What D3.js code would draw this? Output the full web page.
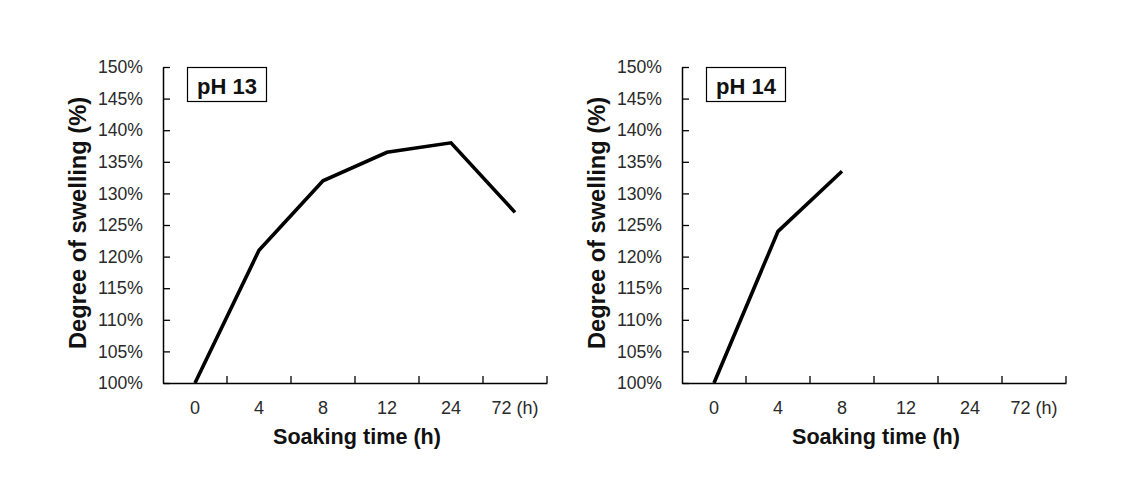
<!DOCTYPE html>
<html><head><meta charset="utf-8">
<script src="https://cdn.jsdelivr.net/npm/d3@7"></script>
<style>
body{margin:0;background:#fff;}
svg{display:block;font-family:Arial,"Liberation Sans",sans-serif;}
</style></head>
<body><svg id="c" width="1124" height="478"></svg>
<script>
const categories = ["0","4","8","12","24","72 (h)"];
const yTicks = [1.00,1.05,1.10,1.15,1.20,1.25,1.30,1.35,1.40,1.45,1.50];
const ph13 = [1.00,1.21,1.32,1.365,1.38,1.27];
const ph14 = [1.00,1.24,1.335];
const panels = [
  {label:"pH 13", values:ph13, left:163},
  {label:"pH 14", values:ph14, left:682}
];
const xTitle = "Soaking time (h)";
const yTitle = "Degree of swelling (%)";

const svg = d3.select("#c");
const plotTop = 67, plotBottom = 383, plotWidth = 384;

panels.forEach(p => {
  const g = svg.append("g").attr("transform", `translate(${p.left},0)`);
  const x = d3.scaleBand().domain(categories).range([0, plotWidth]).padding(0);
  const y = d3.scaleLinear().domain([1.0, 1.5]).range([plotBottom, plotTop]);

  // y axis
  const ya = g.append("g").call(d3.axisLeft(y).tickValues(yTicks).tickFormat(d3.format(".0%"))
      .tickSizeInner(-7).tickSizeOuter(0).tickPadding(20));
  ya.select(".domain").attr("stroke","#000").attr("stroke-width",1.5);
  ya.selectAll(".tick line").attr("stroke","#000").attr("stroke-width",1.3);
  ya.selectAll("text").attr("font-size",17.5).attr("fill","#2a2a2a")
    .attr("textLength",45).attr("lengthAdjust","spacingAndGlyphs");

  // x axis labels
  const xa = g.append("g").attr("transform",`translate(0,${plotBottom})`)
    .call(d3.axisBottom(x).tickSize(0).tickPadding(18));
  xa.select(".domain").attr("stroke","#000").attr("stroke-width",1.5);
  xa.selectAll("text").attr("font-size",18).attr("fill","#2a2a2a");
  // x ticks at band boundaries
  const bounds = categories.map(c => x(c) + x.bandwidth());
  g.append("g").selectAll("line").data(bounds).join("line")
    .attr("x1",d=>d).attr("x2",d=>d).attr("y1",plotBottom).attr("y2",plotBottom-7)
    .attr("stroke","#000").attr("stroke-width",1.3);

  // line
  const line = d3.line().x((d,i)=>x(categories[i])+x.bandwidth()/2).y(d=>y(d));
  g.append("path").datum(p.values).attr("d",line)
    .attr("fill","none").attr("stroke","#000").attr("stroke-width",3.6)
    .attr("stroke-linejoin","miter");

  // label box
  g.append("rect").attr("x",24.5).attr("y",67.5).attr("width",79).attr("height",34)
    .attr("fill","#fff").attr("stroke","#000").attr("stroke-width",1.2);
  g.append("text").attr("x",64).attr("y",94).attr("text-anchor","middle")
    .attr("font-size",22).attr("font-weight","bold").attr("fill","#111").text(p.label);

  // titles
  g.append("text").attr("x",194).attr("y",444).attr("text-anchor","middle")
    .attr("font-size",22).attr("font-weight","bold").attr("fill","#111")
    .attr("textLength",168).attr("lengthAdjust","spacingAndGlyphs").text(xTitle);
  g.append("text").attr("transform",`translate(-77,223) rotate(-90)`).attr("text-anchor","middle")
    .attr("font-size",23).attr("font-weight","bold").attr("fill","#111")
    .attr("textLength",252).attr("lengthAdjust","spacingAndGlyphs").text(yTitle);
});
</script></body></html>
